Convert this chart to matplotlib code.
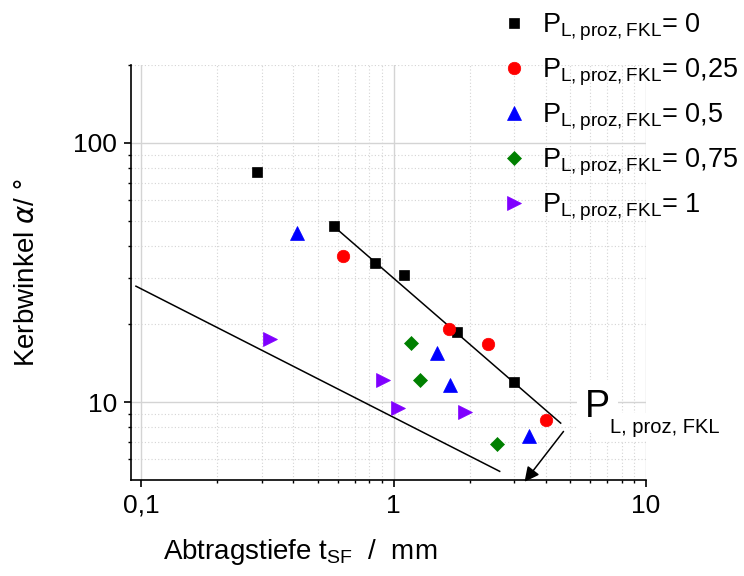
import matplotlib
matplotlib.use("Agg")
import matplotlib.pyplot as plt
from matplotlib.ticker import FixedLocator, FixedFormatter, NullFormatter

plt.rcParams["font.family"] = ["Liberation Sans", "DejaVu Sans"]
plt.rcParams["mathtext.fontset"] = "dejavusans"

# Measured points per removal share P_L,proz,FKL
x_p000 = [0.288, 0.578, 0.841, 1.102, 1.782, 2.997]
y_p000 = [77.6, 47.7, 34.3, 30.9, 18.6, 12.0]
x_p025 = [0.630, 1.656, 2.363, 4.02]
y_p025 = [36.6, 19.2, 16.7, 8.49]
x_p050 = [0.415, 1.483, 1.666, 3.43]
y_p050 = [44.8, 15.4, 11.6, 7.42]
x_p075 = [1.175, 1.276, 2.566]
y_p075 = [16.9, 12.2, 6.89]
x_p100 = [0.323, 0.910, 1.036, 1.91]
y_p100 = [17.5, 12.14, 9.47, 9.14]

share_labels = ["0", "0,25", "0,5", "0,75", "1"]

# Guide lines bounding the point cloud and trend arrow
upper_line_x = [0.578, 4.59]
upper_line_y = [47.7, 8.29]
lower_line_x = [0.0951, 2.63]
lower_line_y = [28.0, 5.40]
arrow_start = (4.71, 7.7)
arrow_end = (3.30, 4.92)

x_ticks = [0.1, 1, 10]
x_tick_labels = ["0,1", "1", "10"]
y_ticks = [10, 100]
y_tick_labels = ["10", "100"]
x_minor = [0.2, 0.3, 0.4, 0.5, 0.6, 0.7, 0.8, 0.9, 2, 3, 4, 5, 6, 7, 8, 9]
y_minor = [6, 7, 8, 9, 20, 30, 40, 50, 60, 70, 80, 90, 200]

fig = plt.figure(figsize=(7.44, 5.76), dpi=100)
ax = fig.add_axes([131 / 744, 96 / 576, 515 / 744, 415 / 576])
ax.set_xscale("log")
ax.set_yscale("log")
ax.set_xlim(0.0909, 10)
ax.set_ylim(5, 200)

ax.xaxis.set_major_locator(FixedLocator(x_ticks))
ax.xaxis.set_major_formatter(FixedFormatter(x_tick_labels))
ax.xaxis.set_minor_locator(FixedLocator(x_minor))
ax.xaxis.set_minor_formatter(NullFormatter())
ax.yaxis.set_major_locator(FixedLocator(y_ticks))
ax.yaxis.set_major_formatter(FixedFormatter(y_tick_labels))
ax.yaxis.set_minor_locator(FixedLocator(y_minor))
ax.yaxis.set_minor_formatter(NullFormatter())

ax.grid(True, which="major", color="#d4d4d4", lw=1.0, ls="-")
ax.grid(True, which="minor", color="#d4d4d4", lw=0.8, ls=(0, (1, 2)))
ax.set_axisbelow(True)

for side in ("top", "right"):
    ax.spines[side].set_visible(False)
for side in ("left", "bottom"):
    ax.spines[side].set_linewidth(1.2)

ax.tick_params(which="major", direction="out", length=5, width=1.2,
               labelsize=19, pad=5)
ax.tick_params(which="minor", direction="out", length=2.5, width=1.0)

# Guide lines
ax.plot(upper_line_x, upper_line_y, color="black", lw=1.1, zorder=2)
ax.plot(lower_line_x, lower_line_y, color="black", lw=1.1, zorder=2)

series = [
    (x_p000, y_p000, "s", "#000000", 7.6),
    (x_p025, y_p025, "o", "#ff0000", 9.0),
    (x_p050, y_p050, "^", "#0000ff", 10.0),
    (x_p075, y_p075, "D", "#008000", 7.4),
    (x_p100, y_p100, ">", "#8000ff", 10.0),
]
handles = []
for (xs, ys, mk, col, ms), lab in zip(series, share_labels):
    h, = ax.plot(xs, ys, ls="none", marker=mk, color=col, ms=ms,
                 mec=col, mew=0.5, zorder=3,
                 label=r"P$_\mathregular{L, proz, FKL}$= " + lab)
    handles.append(h)

# Arrow pointing along the trend of rising share
ax.annotate("", xy=arrow_end, xytext=arrow_start,
            arrowprops=dict(arrowstyle="-|>", color="black", lw=1.1,
                            mutation_scale=22, shrinkA=0, shrinkB=0),
            annotation_clip=False, zorder=4)

ax.text(0.8816, 0.1525, "P", transform=ax.transAxes, fontsize=27,
        ha="left", va="baseline", clip_on=False, zorder=5,
        bbox=dict(facecolor="white", edgecolor="none", pad=6))
ax.text(0.930, 0.114, "L, proz, FKL", transform=ax.transAxes, fontsize=14.5,
        ha="left", va="baseline", clip_on=False, zorder=5,
        bbox=dict(facecolor="white", edgecolor="none", pad=3))

ax.set_xlabel(r"Abtragstiefe t$_\mathregular{SF}$  /  mm", fontsize=20)
ax.set_ylabel(r"Kerbwinkel $\alpha$/ °", fontsize=20)
ax.xaxis.set_label_coords(0.328, -0.137)
ax.yaxis.set_label_coords(-0.177, 0.5)

leg = fig.legend(handles=handles, loc="upper left",
                 bbox_to_anchor=(500 / 744, 1 - 12 / 576),
                 frameon=False, fontsize=19.5, borderpad=0, borderaxespad=0,
                 handlelength=1.0, handletextpad=0.55, labelspacing=0.5)

fig.savefig("out.png", dpi=100)
